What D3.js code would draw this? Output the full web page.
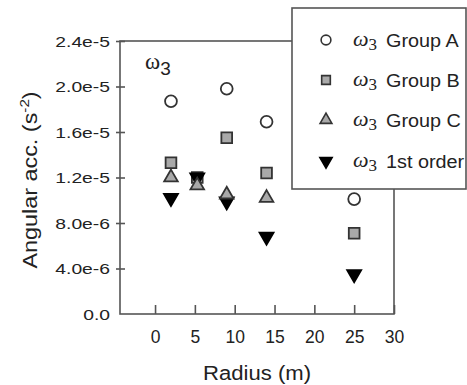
<!DOCTYPE html>
<html>
<head>
<meta charset="utf-8">
<script src="https://cdn.jsdelivr.net/npm/d3@7"></script>
<style>
  html, body { margin: 0; padding: 0; background: #fff; }
  svg text { font-family: "Liberation Sans", Arial, sans-serif; fill: #222; }
</style>
</head>
<body>
<svg id="chart" width="467" height="385"></svg>
<script>
// ---- data ----
const radius = [2, 5.3, 9, 14, 25];
const groupA = [1.87e-5, null, 1.98e-5, 1.69e-5, 1.01e-5];
const groupB = [1.33e-5, 1.20e-5, 1.55e-5, 1.24e-5, 7.1e-6];
const groupC = [1.20e-5, 1.13e-5, 1.05e-5, 1.02e-5, null];
const firstOrder = [1.02e-5, 1.20e-5, 9.9e-6, 6.8e-6, 3.5e-6];
const xTicks = [0, 5, 10, 15, 20, 25, 30];
const yTicks = [0, 4e-6, 8e-6, 1.2e-5, 1.6e-5, 2.0e-5, 2.4e-5];
const yTickLabels = ["0.0", "4.0e-6", "8.0e-6", "1.2e-5", "1.6e-5", "2.0e-5", "2.4e-5"];
const legendLabels = ["Group A", "Group B", "Group C", "1st order"];

const svg = d3.select("#chart");
const L = 120, R = 394, T = 41, B = 314;
const x = d3.scaleLinear().domain([-4.4, 30]).range([L, R]);
const y = d3.scaleLinear().domain([0, 2.4e-5]).range([B, T]);

const frameCol = "#555";
const strokeCol = "#333";
const grayFill = "#a9a9a9";

// frame
svg.append("rect").attr("x", L).attr("y", T).attr("width", R - L).attr("height", B - T)
  .attr("fill", "none").attr("stroke", frameCol).attr("stroke-width", 1.6);

// y axis
const yAxis = svg.append("g").attr("transform", `translate(${L},0)`)
  .call(d3.axisLeft(y).tickValues(yTicks).tickFormat((d, i) => yTickLabels[i]).tickSizeOuter(0));
yAxis.select(".domain").remove();
yAxis.selectAll(".tick line").attr("x1", -4).attr("x2", 5).attr("stroke", frameCol).attr("stroke-width", 1.6)
  .filter(d => d === 0).remove();
yAxis.selectAll(".tick text").attr("x", -10).attr("dy", "0.36em")
  .style("font-size", "14.5px")
  .each(function() {
    const w = this.getComputedTextLength();
    d3.select(this).attr("textLength", w * 1.33).attr("lengthAdjust", "spacingAndGlyphs");
  });

// x axis
const xAxis = svg.append("g").attr("transform", `translate(0,${B})`)
  .call(d3.axisBottom(x).tickValues(xTicks).tickFormat(d3.format("d")).tickSizeOuter(0));
xAxis.select(".domain").remove();
xAxis.selectAll(".tick line").attr("y1", 0).attr("y2", -9).attr("stroke", frameCol).attr("stroke-width", 1.6);
xAxis.selectAll(".tick text").attr("y", 29).attr("dy", 0).style("font-size", "17.5px");

// axis titles
svg.append("text").attr("x", 257).attr("y", 380).attr("text-anchor", "middle")
  .style("font-size", "20px").attr("textLength", 108).attr("lengthAdjust", "spacingAndGlyphs")
  .text("Radius (m)");
const yt = svg.append("text").attr("transform", "translate(37,180) rotate(-90) scale(1.17,1)")
  .attr("text-anchor", "middle").style("font-size", "20px");
yt.append("tspan").text("Angular acc. (s");
yt.append("tspan").attr("dy", -8).style("font-size", "13px").text("-2");
yt.append("tspan").attr("dy", 8).text(")");

// inner label
const il = svg.append("text").attr("x", 145).attr("y", 69);
il.append("tspan").style("font-family", "'Liberation Serif', serif").style("font-size", "23px").text("ω");
il.append("tspan").attr("dy", 6).style("font-size", "19px").text("3");

// symbols
const sym = {
  A: { type: d3.symbolCircle, fill: "#fff", rot: 0 },
  B: { type: d3.symbolSquare, fill: grayFill, rot: 0 },
  C: { type: d3.symbolTriangle, fill: grayFill, rot: 0 },
  F: { type: d3.symbolTriangle, fill: "#000", rot: 180 }
};
const plotSize = { A: 110, B: 115, C: 80, F: 85 };
const legSize = { A: 75, B: 75, C: 60, F: 65 };

function drawSeries(key, vals) {
  const s = sym[key];
  svg.append("g").selectAll("path")
    .data(radius.map((r, i) => ({ r, v: vals[i] })).filter(d => d.v !== null))
    .join("path")
    .attr("transform", d => `translate(${x(d.r)},${y(d.v)}) rotate(${s.rot})`)
    .attr("d", d3.symbol().type(s.type).size(plotSize[key]))
    .attr("fill", s.fill).attr("stroke", key === "F" ? "#000" : strokeCol).attr("stroke-width", 1.8);
}
drawSeries("A", groupA);
drawSeries("B", groupB);
drawSeries("F", firstOrder);
drawSeries("C", groupC);

// legend
const lg = svg.append("g");
lg.append("rect").attr("x", 292).attr("y", 8).attr("width", 174).attr("height", 181)
  .attr("fill", "#fff").attr("stroke", frameCol).attr("stroke-width", 1.6);
const keys = ["A", "B", "C", "F"];
const rowY = [40, 80, 120, 161];
keys.forEach((k, i) => {
  const s = sym[k];
  lg.append("path").attr("transform", `translate(326,${rowY[i]}) rotate(${s.rot})`)
    .attr("d", d3.symbol().type(s.type).size(legSize[k]))
    .attr("fill", s.fill).attr("stroke", k === "F" ? "#000" : strokeCol).attr("stroke-width", 1.6);
  const t = lg.append("text").attr("x", 353).attr("y", rowY[i] + 6);
  t.append("tspan").style("font-family", "'Liberation Serif', serif").style("font-style", "italic")
    .style("font-size", "22px").text("ω");
  t.append("tspan").attr("dy", 4).style("font-family", "'Liberation Serif', serif").style("font-size", "17px").text("3");
  lg.append("text").attr("x", 386).attr("y", rowY[i] + 7).style("font-size", "18px")
    .each(function() {
      d3.select(this).text(legendLabels[i]);
      const w = this.getComputedTextLength();
      d3.select(this).attr("textLength", w * 1.1).attr("lengthAdjust", "spacingAndGlyphs");
    });
});
</script>
</body>
</html>
